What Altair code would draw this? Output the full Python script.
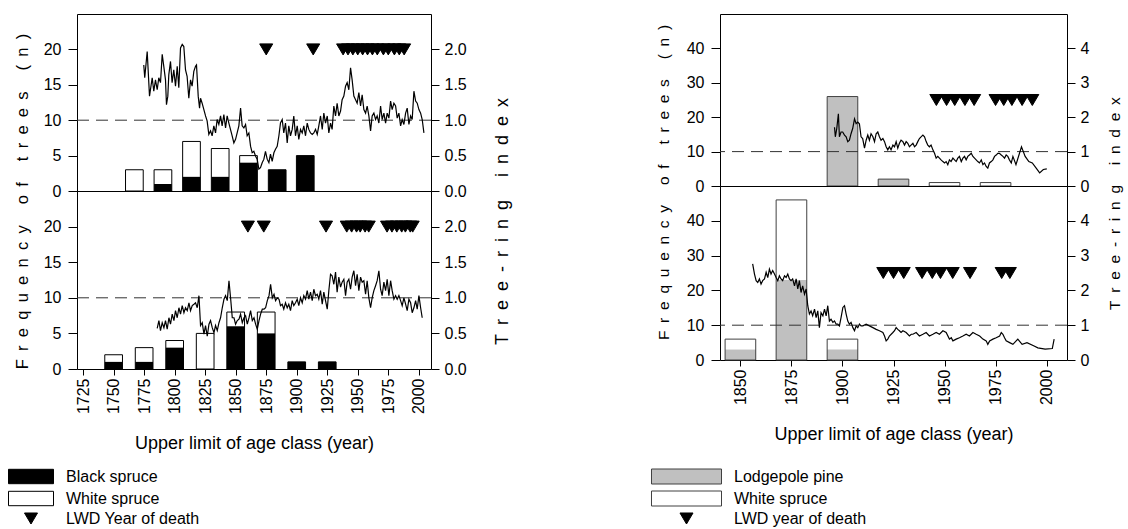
import altair as alt
import pandas as pd

FONT = "Liberation Sans"
GAP = "\u2002"


def spaced(text):
    return GAP.join(text)


Y_TITLE = spaced("Frequency of trees (n)")
R_TITLE = spaced("Tree-ring index")
X_TITLE = "Upper limit of age class (year)"

# ---------------- Left site: black spruce / white spruce ----------------
LT_BAR_YEAR = [1767, 1790.4, 1813.8, 1837.3, 1860.5, 1884, 1907]
LT_BLACK = [0, 1, 2, 2, 4, 3, 5]
LT_TOTAL = [3, 3, 7, 6, 5, 3, 5]

LB_BAR_YEAR = [1750, 1775, 1800, 1825, 1850, 1875, 1900, 1925]
LB_BLACK = [1, 1, 3, 0, 6, 5, 1, 1]
LB_TOTAL = [2, 3, 4, 5, 8, 8, 1, 1]

LT_DEATH = [1875, 1913.5, 1938, 1942, 1946, 1950, 1954, 1958, 1962, 1966, 1971, 1975, 1980, 1984, 1988]
LB_DEATH = [1860, 1873, 1924, 1941, 1945, 1949, 1952, 1956, 1959, 1974, 1978, 1982, 1986, 1989, 1993, 1995]

LT_YEAR = [1774.7, 1775.5, 1777.5, 1779.4, 1781.6, 1782.9, 1784.3, 1785.7, 1787.0, 1788.4,
           1789.8, 1791.1, 1792.5, 1793.3, 1794.4, 1795.2, 1796.6, 1797.9, 1799.3, 1800.7,
           1802.1, 1803.4, 1804.8, 1806.2, 1807.5, 1808.9, 1810.2, 1811.6, 1813.0, 1814.3,
           1815.7, 1817.1, 1817.9, 1819.3, 1820.4, 1821.2, 1822.5, 1825.3, 1826.6, 1828.0,
           1829.4, 1830.7, 1832.1, 1833.5, 1834.8, 1836.2, 1837.6, 1838.9, 1840.3, 1841.7,
           1843.0, 1844.4, 1847.1, 1848.5, 1849.9, 1851.2, 1852.6, 1854.0, 1855.3, 1856.7,
           1858.1, 1859.4, 1860.8, 1862.2, 1863.5, 1864.9, 1866.3, 1867.6, 1869.0, 1870.3,
           1871.7, 1873.1, 1874.4, 1875.8, 1877.2, 1878.5, 1879.9, 1881.3, 1882.6, 1884.0,
           1885.4,
           1886.7, 1888.1, 1889.4, 1890.8, 1892.2, 1893.5, 1894.9, 1896.3, 1897.6, 1899.0,
           1900.4, 1901.7, 1903.1, 1904.5, 1905.8, 1907.2, 1908.6, 1909.9, 1911.3, 1912.7,
           1914.0, 1915.4, 1916.8, 1918.1, 1919.5, 1920.9, 1922.2, 1923.6, 1925.0, 1926.3,
           1927.7, 1929.0, 1930.4, 1931.8, 1933.1, 1934.5, 1935.9, 1937.2, 1938.6, 1940.0,
           1941.3, 1942.7, 1944.1, 1945.4, 1946.8, 1948.2, 1949.5, 1950.9, 1952.3, 1953.6,
           1955.0, 1956.4, 1957.7, 1959.1, 1960.5, 1961.8, 1963.2, 1964.6, 1965.9, 1967.3,
           1968.7, 1970.0, 1971.4, 1972.8, 1974.1, 1975.5, 1976.9, 1978.2, 1979.6, 1981.0,
           1982.3, 1983.7, 1985.1, 1986.4, 1987.8, 1989.2, 1990.5, 1991.9, 1993.3, 1994.6,
           1996.0, 1997.4, 1998.7, 2000.1, 2001.5, 2002.8, 2004.2]
LT_INDEX = [1.78, 1.60, 1.97, 1.34, 1.60, 1.41, 1.57, 1.43, 1.60, 1.53,
            1.93, 1.76, 1.57, 1.22, 1.34, 1.64, 1.83, 1.53, 1.71, 1.48,
            1.76, 1.46, 2.02, 2.07, 2.04, 1.71, 1.62, 1.31, 1.57, 1.48,
            1.69, 1.76, 1.78, 1.34, 1.17, 1.31, 1.24, 1.06, 0.99, 0.80,
            0.85, 0.78, 0.92, 0.82, 1.01, 0.94, 1.06, 0.92, 1.08, 0.89,
            1.06, 0.96, 0.78, 0.68, 0.73, 0.82, 0.92, 1.17, 0.92, 0.89,
            0.94, 0.78, 0.82, 0.63, 0.54, 0.56, 0.49, 0.45, 0.31, 0.33,
            0.40, 0.45, 0.56, 0.45, 0.40, 0.52, 0.42, 0.54, 0.59, 0.63,
            0.78,
            0.96, 1.01, 0.82, 0.96, 0.68, 0.92, 0.78, 0.87, 1.06, 0.78,
            0.92, 0.73, 0.87, 0.82, 0.92, 0.78, 0.96, 0.87, 0.82, 0.80,
            0.82, 0.87, 0.80, 0.92, 1.06, 0.87, 1.10, 0.96, 1.06, 0.82,
            0.96, 0.87, 1.20, 1.06, 1.24, 1.06, 1.13, 1.29, 1.34, 1.48,
            1.53, 1.43, 1.74, 1.57, 1.34, 1.29, 1.24, 1.39, 1.20, 1.36,
            1.15, 1.10, 1.20, 1.06, 0.85, 1.06, 1.10, 1.01, 1.06, 0.96,
            1.20, 1.01, 1.10, 0.96, 1.10, 1.03, 1.27, 1.15, 1.24, 1.20,
            1.03, 1.10, 0.92, 1.01, 0.94, 1.10, 1.17, 0.94, 1.06, 1.01,
            1.41, 1.27, 1.24, 1.15, 1.10, 1.01, 0.82]

LB_YEAR = [1785.7, 1787.1, 1788.4, 1789.8, 1791.2, 1792.5, 1793.9, 1795.3, 1796.6, 1798.0,
           1799.4, 1800.7, 1802.1, 1803.5, 1804.8, 1806.2, 1807.6, 1808.9, 1810.3, 1811.7,
           1813.0, 1814.4, 1815.8, 1817.1, 1818.5, 1819.9, 1821.2, 1822.6, 1824.0, 1825.3,
           1826.7, 1828.1, 1829.4, 1830.8, 1832.2, 1833.5, 1834.9, 1836.3, 1837.6, 1839.0,
           1840.4, 1841.7, 1843.1, 1844.5, 1845.8, 1847.2, 1848.6, 1849.9, 1851.3, 1852.7,
           1854.0, 1855.4, 1856.8, 1858.1, 1859.5, 1860.9, 1862.2, 1863.6, 1865.0, 1866.3,
           1867.7, 1869.1, 1870.4, 1871.8, 1873.2, 1874.5, 1875.9, 1877.3, 1878.6, 1880.0,
           1881.4, 1882.7, 1884.1, 1885.5,
           1886.7, 1888.1, 1889.4, 1890.8, 1892.2, 1893.5, 1894.9, 1896.3, 1897.6, 1899.0,
           1900.4, 1901.7, 1903.1, 1904.5, 1905.8, 1907.2, 1908.6, 1909.9, 1911.3, 1912.7,
           1914.0, 1915.4, 1916.8, 1918.1, 1919.5, 1920.9, 1922.2, 1923.6, 1925.0, 1926.3,
           1927.7, 1929.0, 1930.4, 1931.8, 1933.1, 1934.5, 1935.9, 1937.2, 1938.6, 1940.0,
           1941.3, 1942.7, 1944.1, 1945.4, 1946.8, 1948.2, 1949.5, 1950.9, 1952.3, 1953.6,
           1955.0, 1956.4, 1957.7, 1959.1, 1960.5, 1961.8, 1963.2, 1964.6, 1965.9, 1967.3,
           1968.7, 1970.0, 1971.4, 1972.8, 1974.1, 1975.5, 1976.9, 1978.2, 1979.6, 1981.0,
           1982.3, 1983.7, 1985.1, 1986.4, 1987.8, 1989.2, 1990.5, 1991.9, 1993.3, 1994.6,
           1996.0, 1997.4, 1998.7, 2000.1, 2001.5, 2002.8]
LB_INDEX = [0.57, 0.68, 0.54, 0.65, 0.58, 0.68, 0.56, 0.72, 0.63, 0.77,
            0.68, 0.82, 0.72, 0.86, 0.77, 0.89, 0.79, 0.86, 0.82, 0.93,
            0.82, 0.89, 0.91, 0.93, 0.86, 1.03, 0.61, 0.65, 0.49, 0.61,
            0.46, 0.63, 0.68, 0.58, 0.51, 0.61, 0.54, 0.65, 0.72, 0.86,
            0.98, 1.03, 0.96, 1.24, 1.00, 0.72, 0.72, 0.63, 0.68, 0.70,
            0.77, 0.65, 0.72, 0.75, 0.63, 0.72, 0.82, 0.68, 0.72, 0.63,
            0.56, 0.68, 0.77, 0.84, 0.84, 0.86, 0.96, 1.03, 1.19, 1.00,
            1.05, 0.96, 1.00, 0.98,
            0.89, 0.91, 0.84, 0.93, 0.86, 0.91, 0.82, 0.96, 0.89, 0.93,
            0.98, 0.89, 1.00, 0.93, 1.03, 0.98, 1.10, 0.98, 1.08, 0.96,
            1.12, 1.03, 1.05, 0.98, 1.10, 0.91, 1.08, 0.96, 0.84, 1.10,
            1.33, 1.31, 1.19, 1.36, 1.08, 1.29, 1.15, 1.22, 1.26, 1.03,
            1.22, 1.26, 1.12, 1.29, 1.38, 1.17, 1.33, 1.10, 1.29, 1.22,
            1.24, 1.05, 1.24, 1.00, 0.86, 1.00, 1.10, 1.17, 1.24, 1.38,
            1.12, 1.03, 1.22, 1.10, 1.26, 1.03, 1.24, 1.10, 0.98, 1.03,
            0.98, 1.03, 0.96, 0.89, 1.00, 0.91, 0.82, 0.98, 0.93, 0.79,
            0.86, 0.96, 0.84, 1.03, 0.86, 0.72]

# ---------------- Right site: lodgepole pine / white spruce ----------------
RT_BAR_YEAR = [1900, 1925, 1950, 1975]
RT_PINE = [26, 2, 0, 0]
RT_TOTAL = [26, 2, 1, 1]

RB_BAR_YEAR = [1850, 1875, 1900]
RB_PINE = [3, 23, 3]
RB_TOTAL = [6, 46, 6]

RT_DEATH = [1946, 1951, 1955, 1960, 1964.5, 1975, 1979, 1983, 1988, 1993]
RB_DEATH = [1920, 1925, 1930, 1939, 1944, 1948, 1954, 1962.5, 1978, 1982]

RT_YEAR = [1896.1, 1896.5, 1897.2, 1898.0, 1898.5, 1899.3, 1900.1, 1901.0, 1901.8, 1902.6,
           1903.4, 1904.2, 1905.0, 1905.9, 1906.7, 1907.5, 1908.3, 1909.1, 1909.9, 1910.8,
           1911.6, 1912.4, 1913.2, 1914.0, 1914.9, 1915.7, 1916.5, 1917.3, 1918.1, 1918.9,
           1919.8, 1920.6, 1921.4, 1922.2, 1923.0, 1923.8, 1924.7, 1925.5, 1926.3, 1927.1,
           1927.9, 1928.7, 1929.6, 1930.4, 1931.2, 1932.0, 1932.8, 1933.6, 1934.5, 1935.3,
           1936.1, 1936.9, 1937.7, 1938.5, 1939.4, 1940.2, 1941.0, 1941.8, 1942.6, 1943.4,
           1944.3, 1945.1, 1945.9, 1946.7, 1947.5, 1948.3, 1949.2, 1950.0, 1950.8, 1951.6,
           1952.4, 1953.2, 1954.1, 1954.9, 1955.7, 1956.5, 1957.3, 1958.2, 1959.0, 1959.8,
           1960.6, 1961.4, 1962.2, 1963.1, 1963.9, 1964.7, 1965.5, 1966.3, 1967.1, 1968.0,
           1968.8, 1969.6, 1970.4, 1971.2, 1972.0, 1972.9, 1973.7, 1974.5, 1975.3, 1976.1,
           1976.9, 1977.8, 1978.6, 1979.4, 1980.2, 1981.0, 1981.8, 1982.7,
           1983.5, 1985.0, 1987.7, 1989.5, 1991.3, 1993.0, 1994.9, 1996.6, 1998.4, 2000.1]
RT_INDEX = [1.71, 1.43, 1.67, 2.10, 1.43, 1.57, 1.57, 1.48, 1.43, 1.29,
            1.33, 1.52, 1.67, 1.95, 1.81, 1.86, 1.81, 1.43, 1.38, 1.10,
            1.33, 1.48, 1.33, 1.52, 1.43, 1.29, 1.52, 1.57, 1.43, 1.33,
            1.38, 1.29, 1.14, 1.05, 1.14, 1.05, 1.19, 1.14, 1.29, 1.10,
            1.24, 1.33, 1.29, 1.19, 1.29, 1.24, 1.14, 1.19, 1.24, 1.14,
            1.19, 1.29, 1.38, 1.43, 1.48, 1.43, 1.29, 1.19, 1.14, 1.19,
            1.05, 0.95, 0.81, 0.86, 0.81, 0.76, 0.71, 0.67, 0.71, 0.62,
            0.76, 0.71, 0.81, 0.76, 0.71, 0.81, 0.86, 0.71, 0.81, 0.86,
            0.76, 0.86, 0.90, 0.95, 0.86, 0.81, 0.76, 0.71, 0.67, 0.76,
            0.62, 0.67, 0.57, 0.52, 0.67, 0.71, 0.76, 0.86, 0.90, 0.95,
            0.95, 0.90, 0.86, 0.81, 0.90, 0.86, 0.76, 0.67,
            0.86, 0.62, 1.14, 0.86, 0.71, 0.67, 0.52, 0.38, 0.48, 0.50]

RB_YEAR = [1856.0, 1856.9, 1857.7, 1858.5, 1859.3, 1860.1, 1860.9, 1861.8, 1862.6, 1863.4,
           1864.2, 1865.0, 1865.8, 1866.7, 1867.5, 1868.3, 1869.1, 1869.9, 1870.7, 1871.6,
           1872.4, 1873.2, 1874.0, 1874.8, 1875.6, 1876.5, 1877.3, 1878.1, 1878.9, 1879.7,
           1880.5, 1881.4, 1882.2, 1883.0, 1883.8, 1884.6, 1885.4, 1886.3, 1887.1, 1887.9,
           1888.7, 1889.5, 1890.4, 1891.2, 1892.0, 1892.8, 1893.6, 1894.4, 1895.3, 1896.1,
           1896.9, 1897.7, 1898.5, 1899.3, 1900.2, 1901.0, 1901.8, 1902.6, 1903.4, 1904.2,
           1905.1, 1905.9, 1906.7, 1907.5, 1908.3, 1909.1, 1910.0, 1911.6, 1913.2, 1914.9,
           1916.5, 1918.1, 1919.8, 1920.6, 1921.4, 1922.2, 1923.0, 1924.7, 1925.5, 1926.3,
           1927.1, 1927.9, 1928.7, 1929.6, 1931.2, 1932.8, 1933.7, 1934.5, 1936.1, 1937.7,
           1939.4, 1941.0, 1942.6, 1944.3, 1945.9, 1947.5, 1949.2, 1950.8, 1952.4, 1953.3,
           1954.1, 1955.7, 1957.3, 1959.0, 1960.6, 1962.2, 1963.9, 1965.5, 1967.2, 1968.8,
           1970.4, 1971.2, 1972.1, 1973.7, 1975.3, 1977.0, 1977.8, 1978.6, 1979.4, 1980.2,
           1981.9, 1983.5, 1985.1, 1985.9, 1988.0, 1990.4, 1993.9, 1995.7, 1999.3, 2002.8, 2003.7]
RB_INDEX = [2.76, 2.47, 2.28, 2.23, 2.33, 2.18, 2.28, 2.33, 2.52, 2.37,
            2.61, 2.47, 2.57, 2.47, 2.37, 2.28, 2.42, 2.33, 2.28, 2.42,
            2.37, 2.47, 2.33, 2.28, 2.33, 2.13, 2.33, 2.04, 2.28, 1.94,
            2.13, 1.89, 2.04, 1.56, 1.32, 1.41, 1.27, 1.46, 1.22, 1.41,
            0.93, 1.36, 1.27, 1.46, 1.27, 1.56, 1.12, 1.17, 1.08, 1.12,
            1.03, 1.03, 0.98, 1.22, 1.51, 1.56, 1.32, 1.12, 1.03, 1.08,
            0.93, 0.84, 0.98, 0.93, 1.03, 0.98, 0.98, 1.03, 0.98, 0.93,
            0.88, 0.84, 0.79, 0.69, 0.55, 0.60, 0.69, 0.79, 0.84, 0.93,
            0.88, 0.84, 0.79, 0.84, 0.79, 0.69, 0.74, 0.74, 0.79, 0.69,
            0.74, 0.79, 0.69, 0.74, 0.79, 0.74, 0.84, 0.79, 0.60, 0.64,
            0.55, 0.60, 0.64, 0.69, 0.74, 0.69, 0.79, 0.74, 0.69, 0.60,
            0.55, 0.45, 0.55, 0.60, 0.64, 0.69, 0.79, 0.74, 0.64, 0.55,
            0.50, 0.45, 0.55, 0.60, 0.45, 0.50, 0.40, 0.35, 0.31, 0.33, 0.60]

LEFT_CATS = ["Black spruce", "White spruce", "LWD Year of death"]
RIGHT_CATS = ["Lodgepole pine", "White spruce", "LWD year of death"]
LEFT_FILLS = ["black", "white", "black"]
LEFT_STROKES = ["black", "black", "black"]
RIGHT_FILLS = ["#c0c0c0", "white", "black"]
RIGHT_STROKES = ["#404040", "#404040", "black"]
SYM_SIZE = 225
TRI_PATH = "M-0.87,-0.735H0.87L0,0.735Z"
LEFT_SHAPES = ["M-3,-0.96H3V0.96H-3Z", "M-3,-0.96H3V0.96H-3Z", TRI_PATH]
RIGHT_SHAPES = ["M-4.667,-1H4.667V1H-4.667Z", "M-4.667,-1H4.667V1H-4.667Z", TRI_PATH]


def make_panel(bar_year, base, total, half, base_fill, outline,
               line_year, line_val, death_year, death_level,
               xdom, xvals, ycdom, ycvals, yidom, yivals, ifmt,
               width, height, show_x, left_title, right_title,
               cats, fills, strokes, shapes, legend):
    xs = alt.Scale(domain=xdom, nice=False, zero=False)
    ycs = alt.Scale(domain=ycdom, nice=False)
    yis = alt.Scale(domain=yidom, nice=False)

    if show_x:
        xaxis = alt.Axis(values=xvals, format="d", labelAngle=270, title=X_TITLE,
                         titlePadding=21, labelFlush=False, labelOverlap=False,
                         tickSize=6, labelPadding=3)
    else:
        xaxis = None

    cargs = dict(orient="left", values=ycvals, labelFlush=False, labelOverlap=False,
                 tickSize=9, labelPadding=7)
    if left_title is not None:
        cargs.update(title=Y_TITLE, titleAngle=270, titleX=left_title[0], titleY=left_title[1],
                     titleFontSize=left_title[2], titleAlign="center", titleBaseline="middle")
    else:
        cargs.update(title=None)
    caxis = alt.Axis(**cargs)

    iargs = dict(orient="right", values=yivals, format=ifmt, labelFlush=False,
                 labelOverlap=False, tickSize=8, labelPadding=5)
    if right_title is not None:
        iargs.update(title=R_TITLE, titleAngle=270, titleX=right_title[0], titleY=right_title[1],
                     titleFontSize=right_title[2], titleAlign="center", titleBaseline="middle")
    else:
        iargs.update(title=None)
    iaxis = alt.Axis(**iargs)

    bdf = pd.DataFrame({"year": bar_year, "base": base, "total": total})
    bdf["x0"] = bdf["year"] - half
    bdf["x1"] = bdf["year"] + half
    bdf["zero"] = 0.0
    bx = alt.X("x0:Q", scale=xs, axis=xaxis)

    upper = alt.Chart(bdf).mark_rect(fill="white", strokeWidth=0).encode(
        x=bx, x2=alt.X2("x1"),
        y=alt.Y("base:Q", scale=ycs, axis=caxis), y2=alt.Y2("total"))
    lower = alt.Chart(bdf).transform_filter("datum.base > 0").mark_rect(
        fill=base_fill, strokeWidth=0).encode(
        x=bx, x2=alt.X2("x1"),
        y=alt.Y("zero:Q", scale=ycs, axis=caxis), y2=alt.Y2("base"))
    frame = alt.Chart(bdf).mark_rect(fillOpacity=0, stroke=outline, strokeWidth=1).encode(
        x=bx, x2=alt.X2("x1"),
        y=alt.Y("zero:Q", scale=ycs, axis=caxis), y2=alt.Y2("total"))
    bars = alt.layer(upper, lower, frame)

    lx = alt.X("year:Q", scale=xs, axis=xaxis)
    rule = alt.Chart(pd.DataFrame({"ref": [1.0]})).mark_rule(
        color="#333333", strokeDash=[12, 7], strokeWidth=1).encode(
        y=alt.Y("ref:Q", scale=yis, axis=iaxis))
    ldf = pd.DataFrame({"year": line_year, "idx": line_val})
    line = alt.Chart(ldf).mark_line(color="black", strokeWidth=1.2).encode(
        x=lx, y=alt.Y("idx:Q", scale=yis, axis=iaxis))

    ddf = pd.DataFrame({"year": death_year})
    ddf["level"] = death_level
    ddf["kind"] = cats[2]
    if legend is not None:
        tri = alt.Chart(ddf).mark_point(filled=True, opacity=1, size=SYM_SIZE, strokeWidth=1).encode(
            x=lx, y=alt.Y("level:Q", scale=yis, axis=iaxis),
            fill=alt.Fill("kind:N", scale=alt.Scale(domain=cats, range=fills), legend=legend),
            stroke=alt.Stroke("kind:N", scale=alt.Scale(domain=cats, range=strokes), legend=legend),
            shape=alt.Shape("kind:N", scale=alt.Scale(domain=cats, range=shapes), legend=legend))
    else:
        tri = alt.Chart(ddf).mark_point(filled=True, opacity=1, size=SYM_SIZE, shape=shapes[2],
                                        fill="black", stroke="black", strokeWidth=1).encode(
            x=lx, y=alt.Y("level:Q", scale=yis, axis=iaxis))
    idx = alt.layer(rule, line, tri)

    return alt.layer(bars, idx).resolve_scale(y="independent").properties(width=width, height=height)


def make_legend(lx, loff):
    return alt.Legend(title=None, orient="none", legendX=lx, legendY=454.5, direction="vertical",
                      labelFontSize=16, labelFont=FONT, labelColor="black", labelOffset=loff,
                      rowPadding=2, padding=0, symbolSize=SYM_SIZE, symbolStrokeWidth=1,
                      labelLimit=400)


LX_DOM = [1720, 2010]
LX_VALS = [1725, 1750, 1775, 1800, 1825, 1850, 1875, 1900, 1925, 1950, 1975, 2000]
RX_DOM = [1840, 2010]
RX_VALS = [1850, 1875, 1900, 1925, 1950, 1975, 2000]

lt = make_panel(LT_BAR_YEAR, LT_BLACK, LT_TOTAL, 7.25, "black", "black",
                LT_YEAR, LT_INDEX, LT_DEATH, 2.0,
                LX_DOM, LX_VALS, [0, 25], [0, 5, 10, 15, 20], [0, 2.5], [0, 0.5, 1.0, 1.5, 2.0], ".1f",
                354, 177, False, (-55, 187, 16.5), (71, 207, 18),
                LEFT_CATS, LEFT_FILLS, LEFT_STROKES, LEFT_SHAPES, None)
lb = make_panel(LB_BAR_YEAR, LB_BLACK, LB_TOTAL, 7.25, "black", "black",
                LB_YEAR, LB_INDEX, LB_DEATH, 2.0,
                LX_DOM, LX_VALS, [0, 25], [0, 5, 10, 15, 20], [0, 2.5], [0, 0.5, 1.0, 1.5, 2.0], ".1f",
                354, 178, True, None, None,
                LEFT_CATS, LEFT_FILLS, LEFT_STROKES, LEFT_SHAPES, make_legend(-54, 27))
rt = make_panel(RT_BAR_YEAR, RT_PINE, RT_TOTAL, 7.5, "#c0c0c0", "#404040",
                RT_YEAR, RT_INDEX, RT_DEATH, 2.5,
                RX_DOM, RX_VALS, [0, 50], [0, 10, 20, 30, 40], [0, 5], [0, 1, 2, 3, 4], "d",
                347, 172, False, (-57, 168, 15.5), (47, 189, 15.5),
                RIGHT_CATS, RIGHT_FILLS, RIGHT_STROKES, RIGHT_SHAPES, None)
rb = make_panel(RB_BAR_YEAR, RB_PINE, RB_TOTAL, 7.5, "#c0c0c0", "#404040",
                RB_YEAR, RB_INDEX, RB_DEATH, 2.5,
                RX_DOM, RX_VALS, [0, 50], [0, 10, 20, 30, 40], [0, 5], [0, 1, 2, 3, 4], "d",
                347, 174, True, None, None,
                RIGHT_CATS, RIGHT_FILLS, RIGHT_STROKES, RIGHT_SHAPES, make_legend(-41.5, 39.5))

left_col = alt.vconcat(lt, lb, spacing=0, bounds="flush")
right_col = alt.vconcat(rt, rb, spacing=0, bounds="flush")

chart = (
    alt.hconcat(left_col, right_col, spacing=643, bounds="flush")
    .resolve_scale(fill="independent", stroke="independent", shape="independent")
    .properties(padding={"left": 13, "top": 13, "right": 2, "bottom": 0}, background="white")
    .configure_view(stroke="black", strokeWidth=1)
    .configure_axis(labelFont=FONT, titleFont=FONT, labelFontSize=16, titleFontSize=18,
                    titleFontWeight="normal", labelColor="black", titleColor="black",
                    tickColor="black", tickWidth=1, domain=False, grid=False)
    .configure_legend(labelFont=FONT, labelFontSize=16, labelColor="black")
)

chart.save("out.html", embed_options={"renderer": "svg", "actions": False})
